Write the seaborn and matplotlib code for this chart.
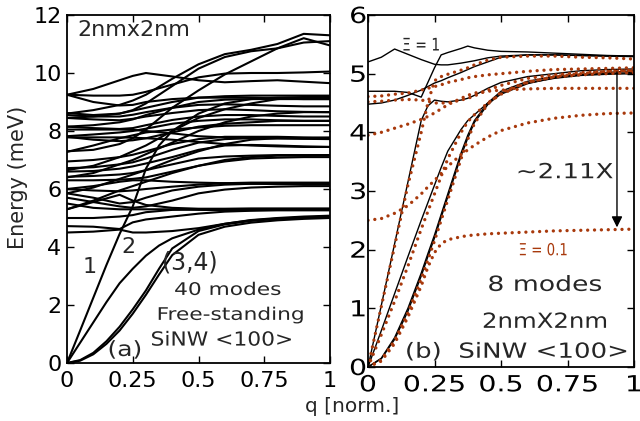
import pandas as pd
import matplotlib
matplotlib.use("Agg")
import matplotlib.pyplot as plt
import seaborn as sns
from matplotlib import patheffects
from matplotlib.transforms import Affine2D

# ---------------- panel (a): free-standing 2nm x 2nm SiNW, 40 modes ----------------
q_acoustic = [0, 0.05, 0.1, 0.15, 0.2, 0.25, 0.3, 0.35, 0.4, 0.5, 0.6, 0.7, 0.8, 0.9, 1.0]
acoustic_a = [
    [0, 1.12, 2.25, 3.38, 4.45, 5.4, 6.7, 7.5, 8.0, 8.6, 8.95, 9.1, 9.15, 9.17, 9.17],
    [0, 0.7, 1.4, 2.1, 2.75, 3.25, 3.7, 4.05, 4.3, 4.6, 4.8, 4.92, 4.98, 5.02, 5.05],
    [0, 0.1, 0.35, 0.75, 1.25, 1.85, 2.5, 3.25, 3.95, 4.55, 4.78, 4.9, 4.97, 5.02, 5.04],
    [0, 0.08, 0.3, 0.66, 1.12, 1.7, 2.35, 3.05, 3.72, 4.42, 4.7, 4.84, 4.92, 4.97, 5.0],
]

q_optical = [0, 0.1, 0.2, 0.25, 0.3, 0.4, 0.5, 0.6, 0.7, 0.8, 0.9, 1.0]
optical_a = [
    [4.5, 4.53, 4.6, 4.5, 4.5, 4.55, 4.65, 4.8, 4.93, 5.0, 5.05, 5.08],
    [4.72, 4.7, 4.62, 4.85, 4.95, 5.05, 5.15, 5.22, 5.25, 5.27, 5.27, 5.27],
    [5.0, 5.0, 5.05, 5.1, 5.2, 5.28, 5.3, 5.3, 5.3, 5.3, 5.3, 5.3],
    [5.3, 5.55, 5.8, 5.6, 5.45, 5.35, 5.32, 5.32, 5.33, 5.33, 5.33, 5.33],
    [5.7, 5.55, 5.4, 5.35, 5.4, 5.6, 5.85, 5.98, 6.05, 6.08, 6.1, 6.1],
    [5.85, 5.7, 5.5, 5.55, 5.7, 5.95, 6.08, 6.15, 6.18, 6.2, 6.2, 6.2],
    [6.0, 5.95, 5.92, 5.95, 6.0, 6.08, 6.15, 6.2, 6.22, 6.22, 6.22, 6.22],
    [6.3, 6.3, 6.32, 6.35, 6.4, 6.6, 6.8, 6.95, 7.05, 7.08, 7.1, 7.1],
    [6.42, 6.45, 6.5, 6.55, 6.65, 6.85, 7.05, 7.12, 7.15, 7.17, 7.17, 7.17],
    [6.6, 6.62, 6.7, 6.78, 6.88, 7.1, 7.35, 7.5, 7.52, 7.5, 7.47, 7.45],
    [6.72, 6.75, 6.85, 6.92, 7.05, 7.35, 7.6, 7.72, 7.75, 7.75, 7.73, 7.72],
    [6.95, 7.0, 7.1, 7.18, 7.3, 7.55, 7.72, 7.8, 7.8, 7.8, 7.78, 7.77],
    [7.28, 7.5, 7.75, 7.85, 7.95, 8.05, 8.12, 8.18, 8.2, 8.2, 8.2, 8.2],
    [7.78, 7.78, 7.78, 7.77, 7.75, 7.7, 7.62, 7.55, 7.5, 7.47, 7.45, 7.45],
    [7.82, 7.88, 7.95, 8.0, 8.08, 8.25, 8.35, 8.4, 8.4, 8.37, 8.35, 8.35],
    [8.05, 8.05, 8.05, 8.04, 8.0, 7.92, 7.82, 7.78, 7.76, 7.75, 7.75, 7.75],
    [8.15, 8.1, 8.07, 8.1, 8.2, 8.38, 8.5, 8.55, 8.55, 8.52, 8.5, 8.5],
    [8.45, 8.4, 8.37, 8.42, 8.5, 8.62, 8.72, 8.75, 8.72, 8.68, 8.66, 8.65],
    [8.55, 8.5, 8.5, 8.56, 8.65, 8.8, 8.9, 8.92, 8.9, 8.87, 8.85, 8.85],
    [9.25, 9.0, 8.88, 8.9, 9.0, 9.1, 9.15, 9.15, 9.15, 9.12, 9.1, 9.1],
    [9.25, 9.45, 9.75, 9.9, 10.0, 9.88, 9.75, 9.68, 9.72, 9.75, 9.7, 9.65],
    [9.25, 9.22, 9.22, 9.25, 9.35, 9.6, 9.85, 9.98, 10.0, 10.0, 10.02, 10.05],
    [8.62, 8.55, 8.6, 8.72, 8.95, 9.55, 10.15, 10.55, 10.75, 10.85, 11.05, 11.1],
    [8.6, 8.72, 8.9, 9.05, 9.25, 9.8, 10.3, 10.65, 10.8, 11.0, 11.35, 11.3],
    [7.3, 7.35, 7.55, 7.75, 8.05, 8.8, 9.4, 9.95, 10.4, 10.85, 11.2, 10.95],
    [6.65, 6.8, 7.1, 7.3, 7.5, 8.0, 8.45, 8.75, 8.95, 9.1, 9.15, 9.2],
    [6.4, 6.55, 6.85, 7.0, 7.2, 7.6, 8.0, 8.3, 8.5, 8.6, 8.65, 8.65],
    [5.85, 6.05, 6.35, 6.5, 6.65, 7.0, 7.3, 7.55, 7.7, 7.75, 7.75, 7.77],
    [5.3, 5.6, 5.95, 6.1, 6.25, 6.55, 6.8, 7.0, 7.1, 7.15, 7.15, 7.17],
    [5.5, 5.35, 5.3, 5.3, 5.3, 5.3, 5.28, 5.27, 5.27, 5.27, 5.27, 5.27],
    [7.8, 7.7, 7.65, 7.68, 7.75, 7.95, 8.15, 8.25, 8.3, 8.35, 8.35, 8.35],
    [8.45, 8.5, 8.6, 8.7, 8.8, 9.0, 9.15, 9.2, 9.22, 9.22, 9.22, 9.22],
    [8.15, 8.2, 8.3, 8.4, 8.55, 8.8, 9.0, 9.08, 9.1, 9.1, 9.1, 9.1],
    [6.0, 6.1, 6.25, 6.3, 6.3, 6.25, 6.22, 6.2, 6.18, 6.17, 6.17, 6.17],
]

# ---------------- panel (b): 8 modes, Xi = 1 (solid) and Xi = 0.1 (dotted) ----------------
q_b = [0, 0.05, 0.1, 0.15, 0.2, 0.225, 0.25, 0.275, 0.3, 0.35, 0.375, 0.4, 0.45,
       0.5, 0.6, 0.7, 0.8, 0.9, 1.0]
modes_xi_1 = [
    [5.2, 5.28, 5.42, 5.33, 5.24, 5.2, 5.16, 5.15, 5.15, 5.18, 5.2, 5.22, 5.27, 5.3, 5.32, 5.32, 5.31, 5.3, 5.3],
    [4.7, 4.7, 4.7, 4.68, 4.6, 4.85, 5.1, 5.32, 5.36, 5.43, 5.47, 5.44, 5.4, 5.38, 5.37, 5.35, 5.33, 5.31, 5.3],
    [0, 1.05, 2.1, 3.15, 4.2, 4.45, 4.55, 4.53, 4.52, 4.55, 4.58, 4.63, 4.75, 4.85, 4.95, 5.0, 5.05, 5.07, 5.08],
    [4.48, 4.5, 4.55, 4.63, 4.72, 4.78, 4.84, 4.88, 4.93, 5.02, 5.07, 5.12, 5.2, 5.28, 5.32, 5.32, 5.31, 5.3, 5.29],
    [0, 0.62, 1.25, 1.88, 2.5, 2.8, 3.1, 3.4, 3.68, 4.05, 4.2, 4.3, 4.5, 4.65, 4.83, 4.93, 4.98, 5.02, 5.05],
    [0, 0.15, 0.5, 1.0, 1.6, 1.93, 2.25, 2.6, 2.95, 3.65, 3.95, 4.2, 4.5, 4.7, 4.87, 4.95, 4.99, 5.0, 5.02],
    [0, 0.14, 0.47, 0.95, 1.55, 1.88, 2.2, 2.55, 2.9, 3.6, 3.9, 4.17, 4.47, 4.67, 4.84, 4.92, 4.97, 4.99, 5.0],
]
modes_xi_01 = [
    [0, 1.03, 2.06, 3.1, 4.0, 4.5, 4.88, 4.95, 4.99, 5.06, 5.1, 5.15, 5.23, 5.28, 5.3, 5.3, 5.28, 5.27, 5.25],
    [4.61, 4.62, 4.65, 4.67, 4.72, 4.75, 4.78, 4.81, 4.85, 4.9, 4.93, 4.95, 4.98, 5.0, 5.04, 5.07, 5.08, 5.09, 5.1],
    [4.52, 4.53, 4.55, 4.56, 4.55, 4.53, 4.5, 4.5, 4.5, 4.55, 4.58, 4.62, 4.72, 4.8, 4.92, 4.98, 5.02, 5.04, 5.05],
    [3.95, 4.0, 4.07, 4.14, 4.22, 4.27, 4.33, 4.4, 4.47, 4.58, 4.63, 4.67, 4.7, 4.72, 4.74, 4.75, 4.75, 4.75, 4.75],
    [2.5, 2.53, 2.62, 2.75, 2.95, 3.07, 3.18, 3.3, 3.42, 3.62, 3.7, 3.78, 3.92, 4.03, 4.16, 4.24, 4.29, 4.32, 4.33],
    [0, 0.55, 1.12, 1.72, 2.35, 2.65, 2.95, 3.25, 3.55, 4.0, 4.18, 4.3, 4.5, 4.65, 4.85, 4.95, 5.0, 5.04, 5.06],
    [0, 0.12, 0.45, 0.92, 1.5, 1.82, 2.15, 2.5, 2.85, 3.55, 3.88, 4.15, 4.48, 4.68, 4.86, 4.94, 4.98, 5.0, 5.02],
    [0, 0.1, 0.4, 0.85, 1.38, 1.7, 1.95, 2.1, 2.17, 2.22, 2.24, 2.25, 2.27, 2.28, 2.3, 2.32, 2.33, 2.34, 2.35],
]

# arrow marking the ~2.11x energy reduction at the zone edge
arrow_q = 0.936
arrow_from, arrow_to = 5.03, 2.38

x_ticks = [0, 0.25, 0.5, 0.75, 1]
x_tick_labels = ["0", "0.25", "0.5", "0.75", "1"]

RUST = "#a8390c"


def to_long(q, modes):
    rows = []
    for m, energies in enumerate(modes):
        for qq, ee in zip(q, energies):
            rows.append((m, qq, ee))
    return pd.DataFrame(rows, columns=["mode", "q", "E"])


class HStretch(patheffects.AbstractPathEffect):
    """Widen glyph outlines horizontally about the text centre."""

    def __init__(self, sx):
        super().__init__()
        self.sx = sx

    def draw_path(self, renderer, gc, tpath, affine, rgbFace=None):
        ext = tpath.get_extents()
        cx = 0.5 * (ext.x0 + ext.x1)
        t = Affine2D().translate(-cx, 0).scale(self.sx, 1).translate(cx, 0) + affine
        renderer.draw_path(gc, tpath, t, rgbFace)


sns.set_style("ticks")
plt.rcParams["font.family"] = ["DejaVu Sans"]
plt.rcParams["axes.linewidth"] = 1.3

fig = plt.figure(figsize=(6.4, 4.21), dpi=100)
axL = fig.add_axes([67 / 640, 58 / 421, 263 / 640, 348 / 421])
axR = fig.add_axes([368 / 640, 54 / 421, 266 / 640, 352 / 421])

line_kw = dict(x="q", y="E", units="mode", estimator=None, sort=False, legend=False)

sns.lineplot(data=to_long(q_optical, optical_a), color="black", lw=1.5, ax=axL, **line_kw)
sns.lineplot(data=to_long(q_acoustic, acoustic_a), color="black", lw=1.5, ax=axL, **line_kw)

sns.lineplot(data=to_long(q_b, modes_xi_1), color="black", lw=1.0, ax=axR, **line_kw)
sns.lineplot(data=to_long(q_b, modes_xi_01), color=RUST, lw=2.4,
             linestyle=(0, (0.01, 2.05)), dash_capstyle="round", ax=axR, **line_kw)

for ax, ymax, yt in ((axL, 12, range(0, 13, 2)), (axR, 6, range(0, 7))):
    ax.set_xlim(0, 1)
    ax.set_ylim(0, ymax)
    ax.set_xticks(x_ticks)
    ax.set_xticklabels(x_tick_labels)
    ax.set_yticks(list(yt))
    ax.set_xlabel("")
    ax.set_ylabel("")
    ax.tick_params(direction="in", top=True, right=True, length=5, width=1,
                   labelsize=16, colors="black")
    for s in ax.spines.values():
        s.set_visible(True)
        s.set_color("black")

axL.tick_params(axis="x", pad=6)
axL.tick_params(axis="y", pad=4)
axR.tick_params(axis="x", pad=6)
axR.tick_params(axis="y", pad=2)
wide = [HStretch(1.28)]
for lab in axR.get_xticklabels() + axR.get_yticklabels():
    lab.set_path_effects(wide)

# panel (a) annotations
axL.text(0.038, 11.48, "2nmx2nm", fontsize=16, ha="left", va="center")
axL.text(0.087, 3.31, "1", fontsize=16, ha="center", va="center")
axL.text(0.232, 4.0, "2", fontsize=16, ha="center", va="center")
axL.text(0.468, 3.45, "(3,4)", fontsize=17, ha="center", va="center")
axL.text(0.612, 2.52, "40 modes", fontsize=12.5, ha="center", va="center",
         path_effects=[HStretch(1.25)])
axL.text(0.624, 1.66, "Free-standing", fontsize=12.5, ha="center", va="center",
         path_effects=[HStretch(1.25)])
axL.text(0.22, 0.45, "(a)", fontsize=15, ha="center", va="center",
         path_effects=[HStretch(1.2)])
axL.text(0.589, 0.79, "SiNW <100>", fontsize=14, ha="center", va="center",
         path_effects=[HStretch(1.12)])

# panel (b) annotations
axR.text(0.2, 5.48, "Ξ = 1", fontsize=12.5, ha="center", va="center",
         path_effects=[HStretch(0.8)])
axR.annotate("", xy=(arrow_q, arrow_to), xytext=(arrow_q, arrow_from),
             arrowprops=dict(arrowstyle="-|>", color="black", lw=1.0,
                             mutation_scale=16, shrinkA=0, shrinkB=0))
axR.text(0.74, 3.32, "~2.11X", fontsize=15, ha="center", va="center",
         path_effects=[HStretch(1.25)])
axR.text(0.658, 1.99, "Ξ = 0.1", fontsize=12, color=RUST, ha="center", va="center",
         path_effects=[HStretch(0.8)])
axR.text(0.665, 1.40, "8 modes", fontsize=15, ha="center", va="center",
         path_effects=[HStretch(1.28)])
axR.text(0.665, 0.77, "2nmX2nm", fontsize=15, ha="center", va="center",
         path_effects=[HStretch(1.17)])
axR.text(0.56, 0.26, "(b)  SiNW <100>", fontsize=15, ha="center", va="center",
         path_effects=[HStretch(1.25)])

fig.text(18 / 640, 1 - 177 / 421, "Energy (meV)", rotation=90, fontsize=15,
         ha="center", va="center")
fig.text(352 / 640, 1 - 407 / 421, "q [norm.]", fontsize=14.5, ha="center", va="center")

fig.savefig("out.png", dpi=100)
